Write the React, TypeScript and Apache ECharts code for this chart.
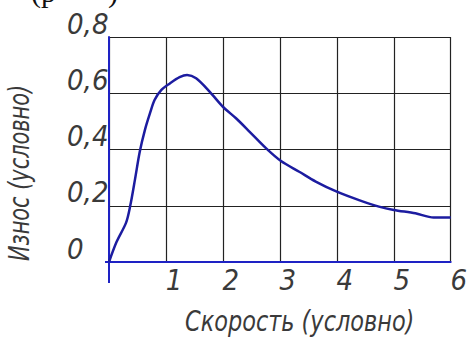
import React, { useEffect, useRef } from "react";
import * as echarts from "echarts";

const speed = [0, 0.13, 0.3, 0.37, 0.455, 0.54, 0.63, 0.72, 0.8, 0.92, 1.07, 1.24, 1.37, 1.53, 1.77, 2.0, 2.23, 2.47, 2.76, 3.02, 3.34, 3.63, 4.0, 4.39, 4.74, 5.0, 5.38, 5.7, 6.0];
const wear = [0, 0.07, 0.14, 0.197, 0.292, 0.392, 0.469, 0.529, 0.576, 0.612, 0.635, 0.657, 0.665, 0.653, 0.605, 0.552, 0.511, 0.463, 0.404, 0.359, 0.321, 0.286, 0.25, 0.22, 0.197, 0.185, 0.173, 0.158, 0.158];
const xTickLabels = ["", "1", "2", "3", "4", "5", "6"];
const yTickLabels = ["0", "0,2", "0,4", "0,6", "0,8"];
const xTitle = "Скорость (условно)";
const yTitle = "Износ (условно)";

const FONT = '"DejaVu Sans Condensed", "Liberation Sans", sans-serif';
const AXIS_BLUE = "#1e22c4";
const CURVE_BLUE = "#1c1ca0";
const TEXT = "#3a3a3a";

export default function App() {
  const ref = useRef<HTMLDivElement>(null);
  useEffect(() => {
    if (!ref.current) return;
    const chart = echarts.init(ref.current, undefined, { renderer: "svg" });
    const data = speed.map((s, i) => [s, wear[i]]);
    chart.setOption({
      animation: false,
      backgroundColor: "#ffffff",
      grid: { left: 109, right: 18, top: 37, bottom: 78, containLabel: false },
      xAxis: {
        type: "value",
        min: 0,
        max: 6,
        interval: 1,
        axisLine: { show: true, onZero: false, lineStyle: { color: AXIS_BLUE, width: 2 } },
        axisTick: { show: false },
        splitLine: { show: true, lineStyle: { color: "#222", width: 1.2 } },
        axisLabel: {
          margin: 3,
          fontFamily: FONT,
          fontStyle: "italic",
          fontSize: 29,
          color: TEXT,
          padding: [0, 0, 0, 16],
          formatter: (v: number) => xTickLabels[Math.round(v)] ?? "",
        },
      },
      yAxis: {
        type: "value",
        min: 0,
        max: 0.8,
        interval: 0.2,
        axisLine: { show: true, onZero: false, lineStyle: { color: AXIS_BLUE, width: 2 } },
        axisTick: { show: false },
        splitLine: { show: true, lineStyle: { color: "#222", width: 1.2 } },
        axisLabel: {
          margin: 42,
          align: "left",
          fontFamily: FONT,
          fontStyle: "italic",
          fontSize: 29,
          color: TEXT,
          verticalAlign: "bottom",
          lineHeight: 27,
          formatter: (v: number) => yTickLabels[Math.round(v / 0.2)] ?? "",
        },
      },
      series: [
        {
          type: "line",
          data,
          smooth: 0.3,
          showSymbol: false,
          lineStyle: { color: CURVE_BLUE, width: 2.5 },
          z: 5,
        },
      ],
      graphic: [
        {
          id: "xt",
          type: "text",
          x: 185,
          y: 306,
          scaleX: 0.86,
          style: { text: xTitle, font: `italic 29px ${FONT}`, fill: TEXT },
        },
        {
          id: "yt",
          type: "text",
          x: 5,
          y: 261,
          rotation: Math.PI / 2,
          scaleX: 0.8,
          style: { text: yTitle, font: `italic 29px ${FONT}`, fill: TEXT, textVerticalAlign: "top" },
        },
        {
          id: "p1",
          type: "text",
          x: 31,
          y: -24,
          style: { text: "(р", font: `30px "Liberation Serif", serif`, fill: "#111" },
        },
        {
          id: "p2",
          type: "text",
          x: 108,
          y: -24,
          style: { text: ")", font: `30px "Liberation Serif", serif`, fill: "#111" },
        },
      ],
    });
    const o = chart.convertToPixel({ gridIndex: 0 }, [0, 0]) as number[];
    chart.setOption({
      graphic: [
        {
          id: "ext1",
          type: "line",
          shape: { x1: o[0], y1: o[1], x2: o[0], y2: o[1] + 21 },
          style: { stroke: AXIS_BLUE, lineWidth: 2 },
        },
        {
          id: "ext2",
          type: "line",
          shape: { x1: o[0] - 4, y1: o[1], x2: o[0], y2: o[1] },
          style: { stroke: AXIS_BLUE, lineWidth: 2 },
        },
      ],
    });
    return () => chart.dispose();
  }, []);
  return (
    <div
      ref={ref}
      style={{ position: "fixed", left: 0, top: 0, width: 470, height: 340, background: "#fff" }}
    />
  );
}
